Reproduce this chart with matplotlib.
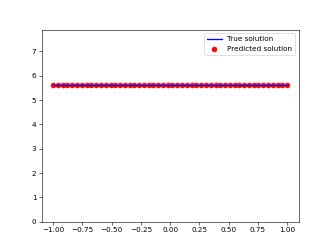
import matplotlib
matplotlib.use("Agg")
import matplotlib.pyplot as plt

# 50 evaluation points on [-1, 1]
x_vals = [-1.0, -0.959, -0.918, -0.878, -0.837, -0.796, -0.755, -0.714, -0.673, -0.633,
          -0.592, -0.551, -0.510, -0.469, -0.429, -0.388, -0.347, -0.306, -0.265, -0.224,
          -0.184, -0.143, -0.102, -0.061, -0.020, 0.020, 0.061, 0.102, 0.143, 0.184,
          0.224, 0.265, 0.306, 0.347, 0.388, 0.429, 0.469, 0.510, 0.551, 0.592,
          0.633, 0.673, 0.714, 0.755, 0.796, 0.837, 0.878, 0.918, 0.959, 1.0]
true_vals = [5.61] * len(x_vals)
pred_vals = [5.635] * len(x_vals)

fig = plt.figure(figsize=(6.4, 4.8), dpi=332 / 6.4)
plt.plot(x_vals, true_vals, color='b', linewidth=1.8, label='True solution', zorder=3)
plt.scatter(x_vals, pred_vals, color='r', s=45, label='Predicted solution', zorder=2)
plt.ylim(0, max(pred_vals) * 1.4)
plt.legend(loc='upper right')
plt.savefig('out.png', dpi=332 / 6.4)
